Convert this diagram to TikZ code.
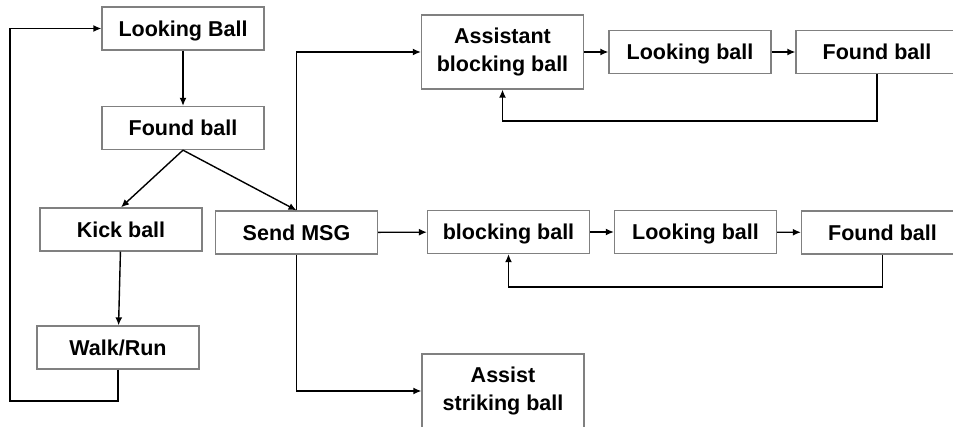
\documentclass[tikz,border=0pt]{standalone}
\usepackage{fontspec}
\setmainfont{Liberation Sans}
\usetikzlibrary{arrows.meta}
\definecolor{boxgrey}{gray}{0.5}

\begin{document}
\begin{tikzpicture}[x=1pt,y=-1pt]
    \tikzset{%
      box/.style={rectangle, draw=boxgrey, line width=1.3pt, fill=white,
        minimum width=162pt, minimum height=43pt, inner sep=0pt,
        text height=15.5pt, text depth=0pt,
        font=\fontsize{21.5}{28}\selectfont\bfseries, align=center},
      tallbox/.style={box, minimum height=74pt, text height=, text depth=},
      link/.style={line width=1.4pt, -{Latex[length=8pt,width=7pt]}},
    }
    \useasboundingbox (0,0) rectangle (953,427);
    % left column
    \node[box] (LB) at (183,28.5) {Looking Ball};
    \node[box] (FB) at (183,128) {Found ball};
    \node[box] (KB) at (121,229.5) {Kick ball};
    \node[box] (WR) at (118,347.5) {Walk/Run};
    \node[box] (SM) at (296.5,232.5) {Send MSG};
    \coordinate (loopL) at (10,401);

    \draw [link] (LB) -- (FB);
    \draw [link] (FB.south) -- (KB.north);
    \draw [link] (FB.south) -- (SM.north);
    \draw [link] (KB) -- (WR);
    \draw [link] (WR.south) |- (loopL) |- (LB.west);

    % top row
    \node[tallbox] (ABB) at (502.5,52) {Assistant\\blocking ball};
    \node[box] (TLB) at (690,52) {Looking ball};
    \node[box] (TFB) at (877,52) {Found ball};
    \draw [link] (SM.north) |- (ABB.west);
    \draw [link] (ABB) -- (TLB);
    \draw [link] (TLB) -- (TFB);
    \draw [link] (TFB.south) -- ++(0,47) -| (ABB.south);

    % middle row
    \node[box] (BB) at (508.5,232) {blocking ball};
    \node[box] (MLB) at (695.5,232) {Looking ball};
    \node[box] (MFB) at (882.5,232.5) {Found ball};
    \draw [link] (SM) -- (BB);
    \draw [link] (BB) -- (MLB);
    \draw [link] (MLB) -- (MFB);
    \draw [link] (MFB.south) -- ++(0,32.5) -| (BB.south);

    \node[tallbox] (ASB) at (503,391) {Assist\\striking ball};
    \draw [link] (SM.south) |- (ASB.west);
\end{tikzpicture}
\end{document}
